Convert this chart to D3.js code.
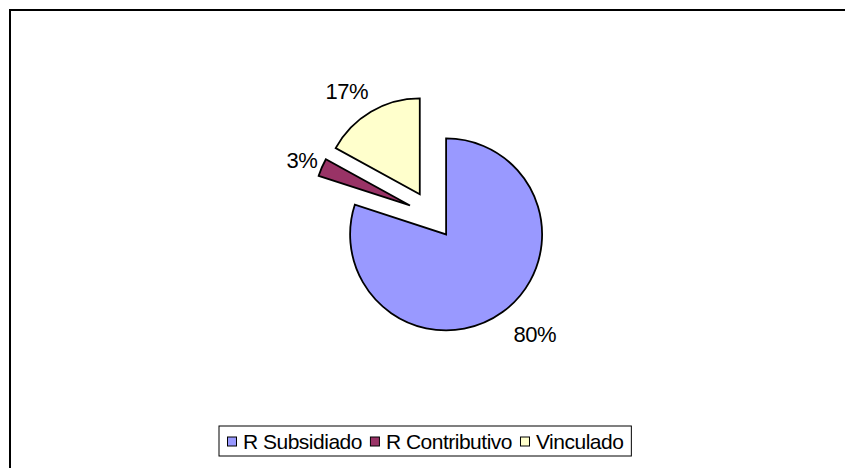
<!DOCTYPE html>
<html>
<head>
<meta charset="utf-8">
<script src="https://cdn.jsdelivr.net/npm/d3@7"></script>
<style>
  body { margin: 0; background: #fff; }
  svg { display: block; font-family: "Liberation Sans", Arial, sans-serif; }
</style>
</head>
<body>
<script>
const categories = ["R Subsidiado", "R Contributivo", "Vinculado"];
const values = [80, 3, 17];
const labels = ["80%", "3%", "17%"];
const colors = ["#9999FF", "#993366", "#FFFFCC"];

const svgWidth = 845, svgHeight = 468;
const cx = 432, cy = 215, radius = 96;
const explode = 24;
// small hand adjustments so labels sit where the original put them
const labelNudge = [[14, -3], [7, 5], [-9, 5]];

const svg = d3.create("svg")
    .attr("width", svgWidth)
    .attr("height", svgHeight);

// attach early so text can be measured
document.body.append(svg.node());

// outer frame (runs off the right/bottom edge)
svg.append("rect")
    .attr("x", 10).attr("y", 10)
    .attr("width", svgWidth).attr("height", svgHeight)
    .attr("fill", "#fff")
    .attr("stroke", "#000")
    .attr("stroke-width", 2);

const pie = d3.pie().sort(null).value(d => d)(values);
const arc = d3.arc().innerRadius(0).outerRadius(radius);

const g = svg.append("g").attr("transform", `translate(${cx},${cy})`);

// every slice is pulled out a little from the centre
const slices = g.selectAll("g.slice")
    .data(pie)
    .join("g")
    .attr("class", "slice")
    .attr("transform", d => {
        const a = (d.startAngle + d.endAngle) / 2;
        return `translate(${explode * Math.sin(a)},${-explode * Math.cos(a)})`;
    });

slices.append("path")
    .attr("d", arc)
    .attr("fill", (d, i) => colors[i])
    .attr("stroke", "#000")
    .attr("stroke-width", 1.8)
    .attr("stroke-linejoin", "miter");

// percentage labels, just outside the arc
slices.append("text")
    .attr("font-size", 22)
    .attr("letter-spacing", -0.5)
    .attr("text-anchor", "middle")
    .attr("dy", "0.35em")
    .text((d, i) => labels[i])
    .each(function(d, i) {
        const a = (d.startAngle + d.endAngle) / 2;
        const hw = this.getComputedTextLength() / 2;
        const hh = 8;
        const s = Math.sin(a), c = -Math.cos(a);
        const r = radius + 12 + Math.abs(s) * hw + Math.abs(c) * hh;
        d3.select(this)
            .attr("x", r * s + labelNudge[i][0])
            .attr("y", r * c + labelNudge[i][1]);
    });

// legend
const legend = svg.append("g");
const legendBox = legend.append("rect")
    .attr("y", 426).attr("height", 30)
    .attr("fill", "#fff")
    .attr("stroke", "#000")
    .attr("stroke-width", 1);

const items = legend.selectAll("g.item")
    .data(categories)
    .join("g")
    .attr("class", "item");

items.append("rect")
    .attr("width", 9).attr("height", 9)
    .attr("y", 437)
    .attr("fill", (d, i) => colors[i])
    .attr("stroke", "#000")
    .attr("stroke-width", 1);

items.append("text")
    .attr("font-size", 21)
    .attr("letter-spacing", -0.5)
    .attr("y", 449)
    .text(d => d);

let x = 0;
const pos = [];
items.each(function() {
    const tw = d3.select(this).select("text").node().getComputedTextLength();
    pos.push(x);
    x += 9 + 7 + tw + 8;
});
const boxX = 219, pad = 8;
legendBox.attr("x", boxX).attr("width", x - 8 + pad * 2);
items.each(function(d, i) {
    const el = d3.select(this);
    el.select("rect").attr("x", boxX + pad + pos[i] + 0.5);
    el.select("text").attr("x", boxX + pad + pos[i] + 16);
});
</script>
</body>
</html>
